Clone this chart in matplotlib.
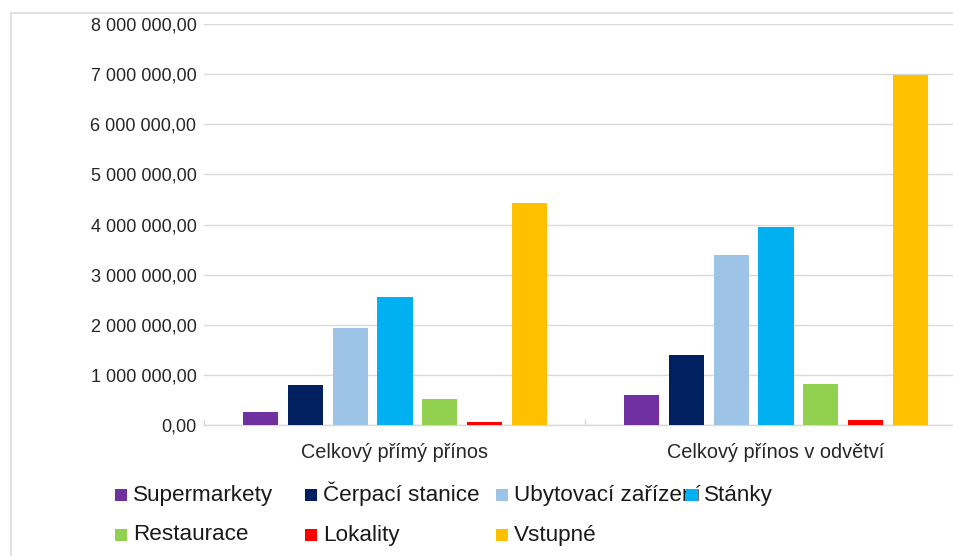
import numpy as np
import matplotlib
matplotlib.use('Agg')
import matplotlib.pyplot as plt
from matplotlib.patches import Rectangle
from matplotlib.lines import Line2D
from matplotlib.ticker import FuncFormatter

plt.rcParams['font.family'] = ['Liberation Sans', 'DejaVu Sans']

# data
categories = ['Celkový přímý přínos', 'Celkový přínos v odvětví']
series = ['Supermarkety', 'Čerpací stanice', 'Ubytovací zařízení', 'Stánky',
          'Restaurace', 'Lokality', 'Vstupné']
supermarkety = [265000, 605000]
cerpaci = [790000, 1400000]
ubytovaci = [1940000, 3390000]
stanky = [2560000, 3950000]
restaurace = [510000, 820000]
lokality = [60000, 94000]
vstupne = [4430000, 6990000]
values = [supermarkety, cerpaci, ubytovaci, stanky, restaurace, lokality, vstupne]
colors = ['#7030A0', '#002060', '#9DC3E6', '#00B0F0', '#92D050', '#FF0000', '#FFC000']

W, H = 954, 556
fig = plt.figure(figsize=(W / 100, H / 100), dpi=100)


def fx(px):
    return px / W


def fy(py):
    return 1 - py / H


# plot area, the right part runs past the picture edge as in the screenshot
left, right, top, bottom = 204.5, 966.5, 24, 425
ax = fig.add_axes([fx(left), fy(bottom), fx(right - left), (bottom - top) / H])

x = np.arange(len(categories))
step = 0.1178
width = 0.0919
for i, (vals, c) in enumerate(zip(values, colors)):
    ax.bar(x + (i - 3) * step, vals, width=width, color=c, zorder=3)

ax.set_xlim(-0.5, 1.5)
ax.set_ylim(0, 8000000)
ax.set_yticks(np.arange(0, 8000001, 1000000))
ax.yaxis.set_major_formatter(FuncFormatter(
    lambda v, p: '{:,.2f}'.format(v).replace(',', ' ').replace('.', ',')))
ax.grid(axis='y', color='#d9d9d9', linewidth=1.0, zorder=0)
ax.set_xticks(x)
ax.set_xticklabels(categories)
ax.set_xticks([-0.5, 0.5, 1.5], minor=True)
ax.tick_params(axis='y', length=0, pad=5.8, labelsize=13, labelcolor='#262626')
ax.tick_params(axis='x', which='major', length=0, pad=12.6, labelsize=14.3,
               labelcolor='#262626')
ax.tick_params(axis='x', which='minor', direction='in', length=4,
               color='#d9d9d9', width=1)
for s in ['top', 'right', 'left']:
    ax.spines[s].set_visible(False)
ax.spines['bottom'].set_color('#d9d9d9')
ax.spines['bottom'].set_linewidth(1.0)

# light frame of the screenshot (left and top edges only)
fig.add_artist(Line2D([fx(11), fx(11)], [fy(13), 0], color='#dcdcdc', lw=1.2))
fig.add_artist(Line2D([fx(11), 1], [fy(13), fy(13)], color='#dcdcdc', lw=1.2))

# legend drawn by hand so that columns keep a fixed width like the original
col_x = 115
col_w = 190.3
row_base = [501, 540.5]
row_mid = [494.5, 535]
for i, (name, c) in enumerate(zip(series, colors)):
    col, row = i % 4, i // 4
    mx = col_x + col * col_w
    fig.text(fx(mx + 18), fy(row_base[row]), name, fontsize=16.2,
             color='#1a1a1a', va='baseline', ha='left', zorder=2)
    fig.add_artist(Rectangle((fx(mx), fy(row_mid[row] + 6)), fx(12), 12 / H,
                             facecolor=c, edgecolor='none', zorder=5))

fig.savefig('out.png', dpi=100, facecolor='white')
